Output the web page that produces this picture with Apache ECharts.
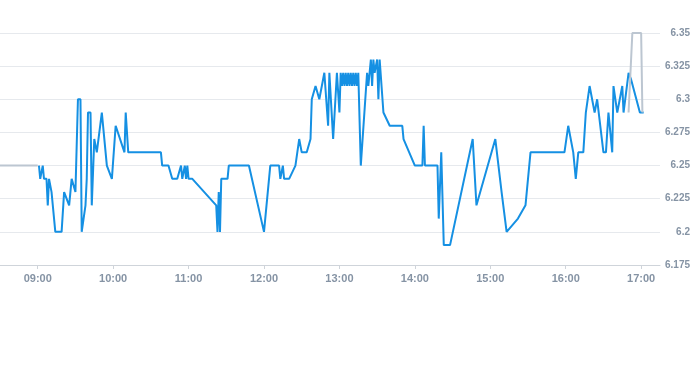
<!DOCTYPE html>
<html>
<head>
<meta charset="utf-8">
<script src="https://cdn.jsdelivr.net/npm/echarts@6/dist/echarts.min.js"></script>
<style>html,body{margin:0;padding:0;background:#fff}#c{width:693px;height:365px}</style>
</head>
<body>
<div id="c"></div>
<script>
const preTimes = ['08:30', '09:00'];
const preValues = [6.25, 6.25];

const times = ['09:01','09:02','09:04','09:05','09:07','09:08','09:09','09:11','09:14','09:19','09:21','09:25','09:27','09:30','09:32','09:34','09:35','09:38','09:39','09:40','09:42','09:43','09:45','09:47','09:51','09:55','09:59','10:02','10:09','10:10','10:12','10:38','10:39','10:44','10:47','10:51','10:54','10:55','10:57','10:58','10:59','11:00','11:03','11:22','11:23','11:24','11:25','11:26','11:31','11:32','11:48','12:00','12:05','12:12','12:13','12:15','12:16','12:20','12:25','12:26','12:28','12:30','12:34','12:37','12:38','12:39','12:41','12:44','12:48','12:51','12:52','12:55','12:58','13:00','13:01','13:02','13:03','13:04','13:05','13:06','13:07','13:08','13:09','13:10','13:11','13:12','13:13','13:14','13:15','13:17','13:22','13:23','13:25','13:26','13:27','13:28','13:30','13:31','13:32','13:33','13:35','13:40','13:50','13:51','14:00','14:06','14:07','14:08','14:18','14:19','14:21','14:23','14:28','14:46','14:49','15:04','15:09','15:13','15:22','15:28','15:32','15:59','16:02','16:06','16:08','16:10','16:14','16:16','16:19','16:23','16:25','16:30','16:32','16:34','16:37','16:38','16:41','16:45','16:46','16:50','16:52','16:59','17:02'];
const prices = [6.25,6.24,6.25,6.24,6.24,6.22,6.24,6.23,6.20,6.20,6.23,6.22,6.24,6.23,6.30,6.30,6.20,6.22,6.24,6.29,6.29,6.22,6.27,6.26,6.29,6.25,6.24,6.28,6.26,6.29,6.26,6.26,6.25,6.25,6.24,6.24,6.25,6.24,6.25,6.24,6.25,6.24,6.24,6.22,6.20,6.23,6.20,6.24,6.24,6.25,6.25,6.20,6.25,6.25,6.24,6.25,6.24,6.24,6.25,6.25,6.27,6.26,6.26,6.27,6.30,6.30,6.31,6.30,6.32,6.28,6.32,6.27,6.32,6.29,6.32,6.31,6.32,6.31,6.32,6.31,6.32,6.31,6.32,6.31,6.32,6.31,6.32,6.31,6.32,6.25,6.32,6.31,6.33,6.31,6.33,6.32,6.33,6.30,6.33,6.33,6.29,6.28,6.28,6.27,6.25,6.25,6.28,6.25,6.25,6.21,6.26,6.19,6.19,6.27,6.22,6.27,6.23,6.20,6.21,6.22,6.26,6.26,6.28,6.26,6.24,6.26,6.26,6.29,6.31,6.29,6.30,6.26,6.26,6.29,6.26,6.31,6.29,6.31,6.29,6.32,6.315,6.29,6.29];

const postTimes = ['16:50', '16:53', '17:00', '17:01'];
const postValues = [6.29, 6.35, 6.35, 6.29];

const axisStart = '08:30';
const axisEnd = '17:15';
const yMin = 6.175, yMax = 6.35, yStep = 0.025;

function ts(hm) {
  const p = hm.split(':');
  return new Date(2024, 0, 2, +p[0], +p[1]).getTime();
}
function pairs(ts_, vs) { return ts_.map((t, i) => [ts(t), vs[i]]); }
function pad(n) { return (n < 10 ? '0' : '') + n; }

const chart = echarts.init(document.getElementById('c'), null, { renderer: 'canvas' });
chart.setOption({
  animation: false,
  grid: { left: 0, right: 30, top: 33, bottom: 100, containLabel: false },
  xAxis: {
    type: 'time',
    min: ts(axisStart),
    max: ts(axisEnd),
    minInterval: 3600 * 1000,
    maxInterval: 3600 * 1000,
    splitNumber: 9,
    splitLine: { show: false },
    axisLine: { lineStyle: { color: '#cfd4da', width: 1 } },
    axisTick: { show: true, length: 4, lineStyle: { color: '#cfd4da' } },
    axisLabel: {
      color: '#8593a4', fontSize: 11, fontWeight: 'bold', margin: 8,
      showMinLabel: false, showMaxLabel: false,
      fontFamily: 'Liberation Sans, Arial, sans-serif',
      formatter: function (v) { const d = new Date(v); return pad(d.getHours()) + ':' + pad(d.getMinutes()); }
    }
  },
  yAxis: {
    type: 'value',
    position: 'right',
    min: yMin, max: yMax, interval: yStep,
    axisLine: { show: false },
    axisTick: { show: false },
    splitLine: { lineStyle: { color: '#e6e9ed', width: 1 } },
    axisLabel: {
      color: '#8593a4', fontSize: 10, fontWeight: 'bold', align: 'right', margin: 30,
      fontFamily: 'Liberation Sans, Arial, sans-serif',
      formatter: function (v) { return String(+v.toFixed(3)); }
    }
  },
  series: [
    { type: 'line', data: pairs(preTimes, preValues), showSymbol: false, symbol: 'none',
      lineStyle: { color: '#bcc6d1', width: 2 }, itemStyle: { color: '#bcc6d1' } },
    { type: 'line', data: pairs(times, prices), showSymbol: false, symbol: 'none',
      lineStyle: { color: '#1590e3', width: 2 }, itemStyle: { color: '#1590e3' } },
    { type: 'line', data: pairs(postTimes, postValues), showSymbol: false, symbol: 'none',
      lineStyle: { color: '#bcc6d1', width: 2 }, itemStyle: { color: '#bcc6d1' } }
  ]
});
</script>
</body>
</html>
